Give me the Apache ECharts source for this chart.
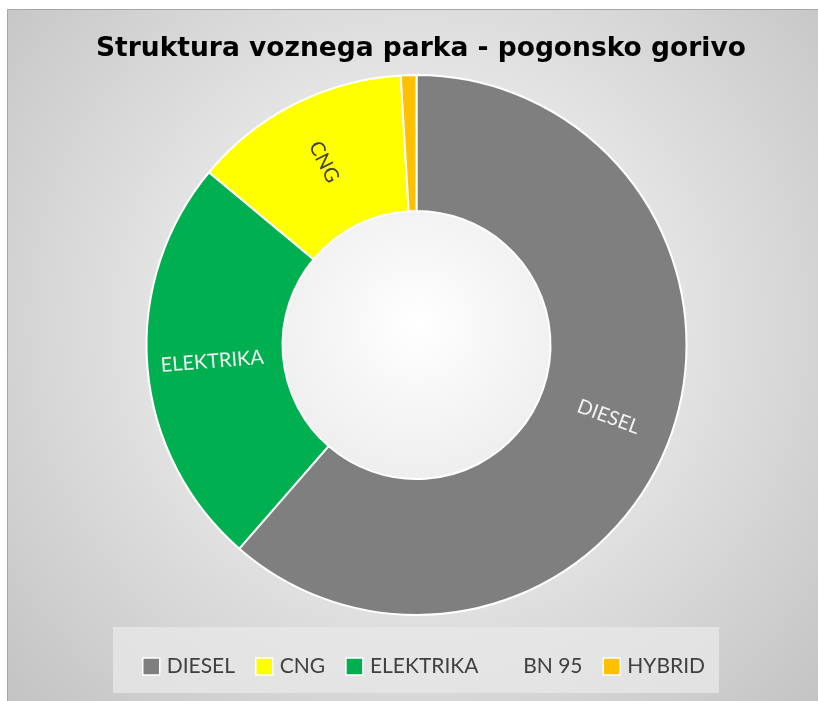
<!DOCTYPE html>
<html>
<head>
<meta charset="utf-8">
<script src="https://cdn.jsdelivr.net/npm/echarts@6/dist/echarts.min.js"></script>
<style>
  html, body { margin: 0; padding: 0; background: #fff; }
  #main { width: 818px; height: 701px; }
</style>
</head>
<body>
<div id="main"></div>
<script>
// podatki
var names = ['DIESEL', 'ELEKTRIKA', 'CNG', 'BN 95', 'HYBRID'];   // v smeri urinega kazalca
var values = [132, 53, 28, 0, 2];
var colors = ['#7f7f7f', '#00b050', '#ffff00', 'transparent', '#ffc000'];
var labelColors = ['#f2f2f2', '#f2f2f2', '#404040', '#404040', '#404040'];
var legendOrder = ['DIESEL', 'CNG', 'ELEKTRIKA', 'BN 95', 'HYBRID'];

var chart = echarts.init(document.getElementById('main'));

var pieData = names.map(function (n, i) {
  return {
    name: n,
    value: values[i],
    itemStyle: { color: colors[i], borderWidth: values[i] === 0 ? 0 : 2 },
    label: { color: labelColors[i], show: n !== 'HYBRID' && values[i] > 0 }
  };
});

// BN 95 nima barve v legendi
var legendData = legendOrder.map(function (n) {
  if (values[names.indexOf(n)] === 0) {
    return { name: n, itemStyle: { color: 'transparent', borderColor: 'transparent' } };
  }
  return { name: n };
});

chart.setOption({
  animation: false,
  graphic: [
    { // ozadje grafa
      type: 'rect', z: -10, silent: true,
      shape: { x: 7.5, y: 9.5, width: 820, height: 700 },
      style: {
        fill: new echarts.graphic.RadialGradient(0.5, 0.45, 0.78, [
          { offset: 0, color: '#ffffff' },
          { offset: 1, color: '#c4c4c4' }
        ]),
        stroke: '#a6a6a6', lineWidth: 1
      }
    },
    { // okvir legende
      type: 'rect', z: -5, silent: true,
      shape: { x: 113, y: 627, width: 606, height: 66 },
      style: { fill: 'rgba(232,232,232,0.75)' }
    }
  ],
  title: {
    text: 'Struktura voznega parka - pogonsko gorivo',
    left: 91,
    top: 31,
    textStyle: { fontFamily: 'DejaVu Sans', fontWeight: 'bold', fontSize: 26.5, color: '#000' }
  },
  legend: {
    data: legendData,
    left: 137,
    top: 651,
    icon: 'rect',
    itemWidth: 17,
    itemHeight: 17,
    itemGap: 20,
    selectedMode: false,
    itemStyle: { borderColor: '#fff', borderWidth: 1.5 },
    textStyle: { fontFamily: 'Lato', fontSize: 21, color: '#404040', padding: [0, 0, 0, 2] }
  },
  series: [{
    type: 'pie',
    center: [416.5, 345],
    radius: [134, 270],
    startAngle: 90,
    clockwise: true,
    avoidLabelOverlap: false,
    itemStyle: { borderColor: '#ffffff', borderWidth: 2 },
    label: {
      position: 'inside',
      rotate: 'radial',
      formatter: '{b}',
      fontFamily: 'Lato',
      fontSize: 20
    },
    labelLine: { show: false },
    emphasis: { disabled: true },
    data: pieData
  }]
});
</script>
</body>
</html>
